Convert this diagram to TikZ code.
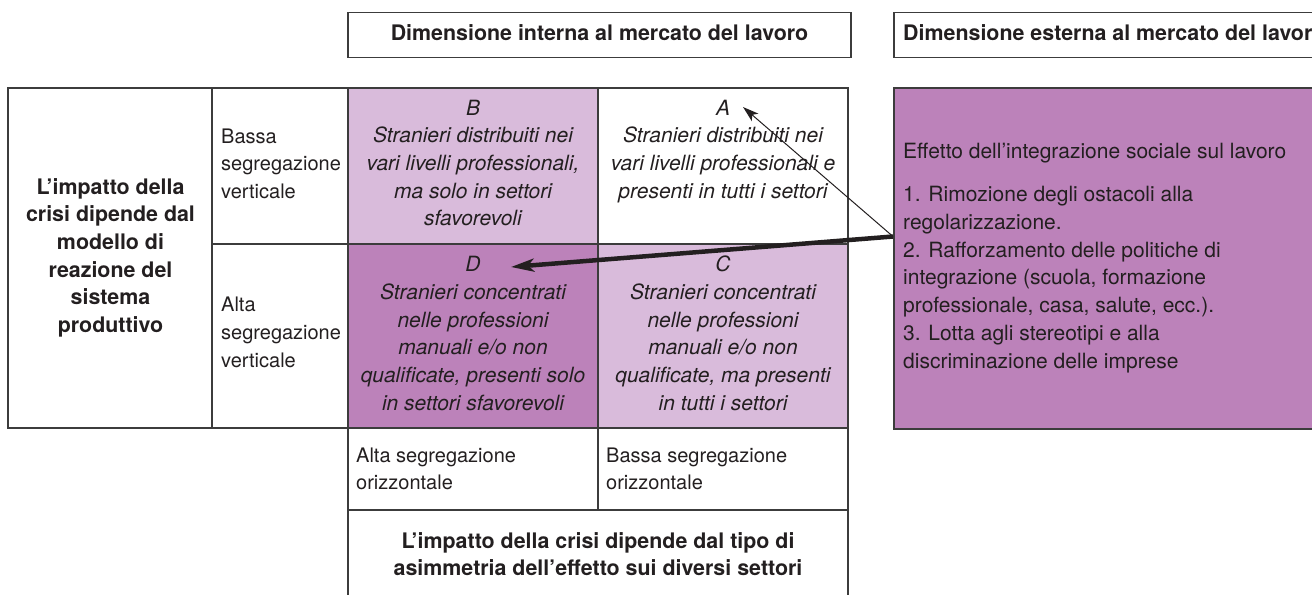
\documentclass[tikz,border=0pt]{standalone}
\usepackage{fontspec}
\setmainfont{TeX Gyre Heros}
\usetikzlibrary{arrows.meta}
\definecolor{lightp}{RGB}{217,187,219}
\definecolor{darkp}{RGB}{188,130,186}
\definecolor{ink}{RGB}{35,31,32}
\definecolor{rulec}{RGB}{60,60,60}
\tikzset{
  box/.style={draw=rulec, line width=1.2bp, inner sep=0pt, outer sep=0pt, anchor=north west},
  boldtxt/.style={font=\fontsize{21.4bp}{27.7bp}\selectfont\bfseries, text=ink, inner sep=0pt, align=center},
  regtxt/.style={font=\fontsize{20bp}{27.7bp}\selectfont, text=ink, inner sep=0pt, align=left},
  purtxt/.style={font=\fontsize{21bp}{27.7bp}\selectfont, text=ink, inner sep=0pt, align=left},
  itatxt/.style={font=\fontsize{21bp}{27.7bp}\selectfont\itshape, text=ink, inner sep=0pt, align=center},
  thinarrow/.style={draw=ink, line width=1bp, -{Stealth[length=16bp,width=10bp,inset=4bp]}},
  thickarrow/.style={draw=ink, line width=4.5bp, -{Stealth[length=23bp,width=13bp,inset=6bp]}}
}
\begin{document}
\begin{tikzpicture}[x=1bp,y={(0bp,-1bp)}]
\useasboundingbox (0,0) rectangle (1312,595);
\clip (0,0) rectangle (1312,595);
% headers
\node[box, minimum width=503bp, minimum height=44.6bp] (h1) at (348,12.7) {};
\node[box, minimum width=460bp, minimum height=44.6bp] (h2) at (894,12.7) {};
\node[boldtxt, anchor=base] (h1t) at (599.5,41) {Dimensione interna al mercato del lavoro};
\node[boldtxt, anchor=base west] (h2t) at (903,41) {Dimensione esterna al mercato del lavoro};
% table cells
\node[box, minimum width=204bp, minimum height=340bp] (left) at (8,88) {};
\node[box, minimum width=136bp, minimum height=156bp] (v1) at (212,88) {};
\node[box, minimum width=136bp, minimum height=184bp] (v2) at (212,244) {};
\node[box, fill=lightp, minimum width=250bp, minimum height=156bp] (B) at (348,88) {};
\node[box, minimum width=250bp, minimum height=156bp] (A) at (598,88) {};
\node[box, fill=darkp, minimum width=250bp, minimum height=184bp] (D) at (348,244) {};
\node[box, fill=lightp, minimum width=250bp, minimum height=184bp] (C) at (598,244) {};
\node[box, minimum width=250bp, minimum height=82bp] (o1) at (348,428) {};
\node[box, minimum width=250bp, minimum height=82bp] (o2) at (598,428) {};
\node[box, minimum width=500bp, minimum height=110bp] (bot) at (348,510) {};
\node[box, fill=darkp, minimum width=460bp, minimum height=341bp] (ext) at (894,88) {};
% texts
\node[boldtxt, anchor=north] (leftt) at (110.5,174.6) {\strut L’impatto della\\crisi dipende dal\\modello di\\reazione del\\sistema\\produttivo};
\node[regtxt, anchor=north west] (v1t) at (221,123.6) {\strut Bassa\\segregazione\\verticale};
\node[regtxt, anchor=north west] (v2t) at (221,292.4) {\strut Alta\\segregazione\\verticale};
\node[itatxt, anchor=north] (Bt) at (473,95.6) {\strut B\\Stranieri distribuiti nei\\vari livelli professionali,\\ma solo in settori\\sfavorevoli};
\node[itatxt, anchor=north] (At) at (723,95.6) {\strut A\\Stranieri distribuiti nei\\vari livelli professionali e\\presenti in tutti i settori};
\node[itatxt, anchor=north] (Dt) at (473,252.3) {\strut D\\Stranieri concentrati\\nelle professioni\\manuali e/o non\\qualificate, presenti solo\\in settori sfavorevoli};
\node[itatxt, anchor=north] (Ct) at (723,252.3) {\strut C\\Stranieri concentrati\\nelle professioni\\manuali e/o non\\qualificate, ma presenti\\in tutti i settori};
\node[regtxt, anchor=north west] (o1t) at (356,442.6) {\strut Alta segregazione\\orizzontale};
\node[regtxt, anchor=north west] (o2t) at (606,442.6) {\strut Bassa segregazione\\orizzontale};
\node[boldtxt, anchor=north] (bott) at (598,528.6) {\strut L’impatto della crisi dipende dal tipo di\\asimmetria dell’effetto sui diversi settori};
\node[purtxt, anchor=north west] (extt1) at (903,138.6) {\strut Effetto dell’integrazione sociale sul lavoro};
\node[purtxt, anchor=north west] (extt2) at (903,182.3) {\strut 1. Rimozione degli ostacoli alla\\regolarizzazione.\\2. Rafforzamento delle politiche di\\integrazione (scuola, formazione\\professionale, casa, salute, ecc.).\\3. Lotta agli stereotipi e alla\\discriminazione delle imprese};
% arrows
\coordinate (src) at (893,236.5);
\coordinate (tipA) at (743,107);
\coordinate (tipD) at (511,267);
\draw[thinarrow] (src) -- (tipA);
\draw[thickarrow] (src) -- (tipD);
\end{tikzpicture}
\end{document}
